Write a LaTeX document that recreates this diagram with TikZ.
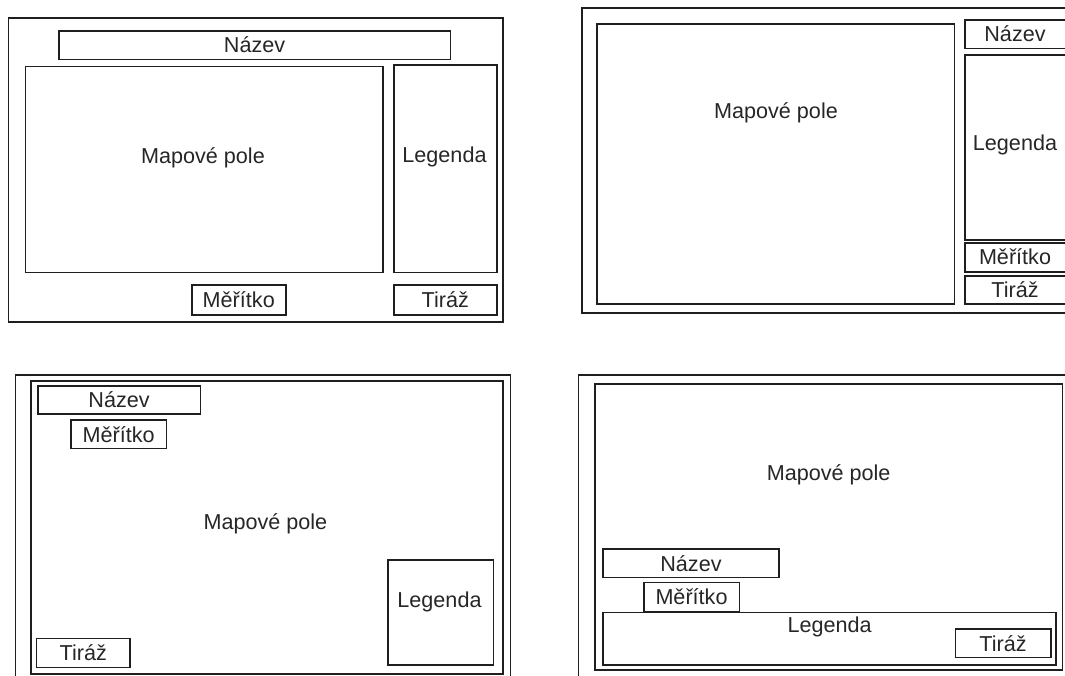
\documentclass[tikz,border=0pt]{standalone}
\usepackage{fontspec}
\setmainfont{Liberation Sans}
\begin{document}
\begin{tikzpicture}[x=1pt,y=-1pt,
  frame/.style={draw=black!88, line width=1.5pt},
  box/.style={frame, inner sep=0pt, anchor=north west, font=\fontsize{21.6}{26}\selectfont, text=black!85},
  lbl/.style={font=\fontsize{21.6}{26}\selectfont, text=black!85, inner sep=0pt}]
\useasboundingbox (0,0) rectangle (1065,675);
\clip (0,0) rectangle (1065,675);
% ---------- panel 1 ----------
\node[box, minimum width=494.5pt, minimum height=304pt] (p1out) at (7.5,17) {};
\node[box, minimum width=391.6pt, minimum height=28.7pt] (p1naz) at (58,30) {Název};
\node[box, minimum width=357.5pt, minimum height=206pt] (p1map) at (24.5,65.5) {};
\node[lbl] (p1mapt) at (203,158) {Mapové pole};
\node[box, minimum width=103pt, minimum height=207.5pt] (p1leg) at (393,64) {};
\node[lbl] (p1legt) at (444.5,157) {Legenda};
\node[box, minimum width=94pt, minimum height=30pt] (p1mer) at (191,284) {Měřítko};
\node[box, minimum width=103pt, minimum height=30pt] (p1tir) at (393,284) {Tiráž};
% ---------- panel 2 ----------
\node[box, minimum width=500pt, minimum height=305.3pt] (p2out) at (581,7) {};
\node[box, minimum width=357.5pt, minimum height=280pt] (p2map) at (596,23) {};
\node[lbl] (p2mapt) at (776,113) {Mapové pole};
\node[box, minimum width=110pt, minimum height=28.7pt] (p2naz) at (964,19) {};
\node[lbl] (p2nazt) at (1015,34) {Název};
\node[box, minimum width=110pt, minimum height=185.3pt] (p2leg) at (964,54) {};
\node[lbl] (p2legt) at (1015,145) {Legenda};
\node[box, minimum width=110pt, minimum height=28.7pt] (p2mer) at (964,242.3) {};
\node[lbl] (p2mert) at (1015,257) {Měřítko};
\node[box, minimum width=110pt, minimum height=28.3pt] (p2tir) at (964,275) {};
\node[lbl] (p2tirt) at (1015,290) {Tiráž};
% ---------- panel 3 ----------
\node[box, minimum width=495pt, minimum height=320pt] (p3out) at (14.5,374) {};
\node[box, minimum width=471.6pt, minimum height=293pt] (p3in) at (30.4,380) {};
\node[lbl] (p3mapt) at (265.4,523.3) {Mapové pole};
\node[box, minimum width=162.3pt, minimum height=28.3pt] (p3naz) at (37.2,385) {Název};
\node[box, minimum width=95.4pt, minimum height=28.4pt] (p3mer) at (70.3,419.3) {Měřítko};
\node[box, minimum width=105.6pt, minimum height=105pt] (p3leg) at (387,559.3) {};
\node[lbl] (p3legt) at (439.5,602) {Legenda};
\node[box, minimum width=93.6pt, minimum height=29pt] (p3tir) at (35.7,637.7) {Tiráž};
% ---------- panel 4 ----------
\node[box, minimum width=500pt, minimum height=320pt] (p4out) at (577.5,374) {};
\node[box, minimum width=467.6pt, minimum height=285.7pt] (p4in) at (594.2,383.3) {};
\node[lbl] (p4mapt) at (828.6,474.3) {Mapové pole};
\node[box, minimum width=176.4pt, minimum height=28.4pt] (p4naz) at (602,548.3) {Název};
\node[box, minimum width=95.5pt, minimum height=29pt] (p4mer) at (643,581.7) {Měřítko};
\node[box, minimum width=453pt, minimum height=52.3pt] (p4leg) at (602,611.7) {};
\node[lbl] (p4legt) at (829.6,626.7) {Legenda};
\node[box, minimum width=95.5pt, minimum height=28.4pt] (p4tir) at (954.5,628.3) {Tiráž};
\end{tikzpicture}
\end{document}
